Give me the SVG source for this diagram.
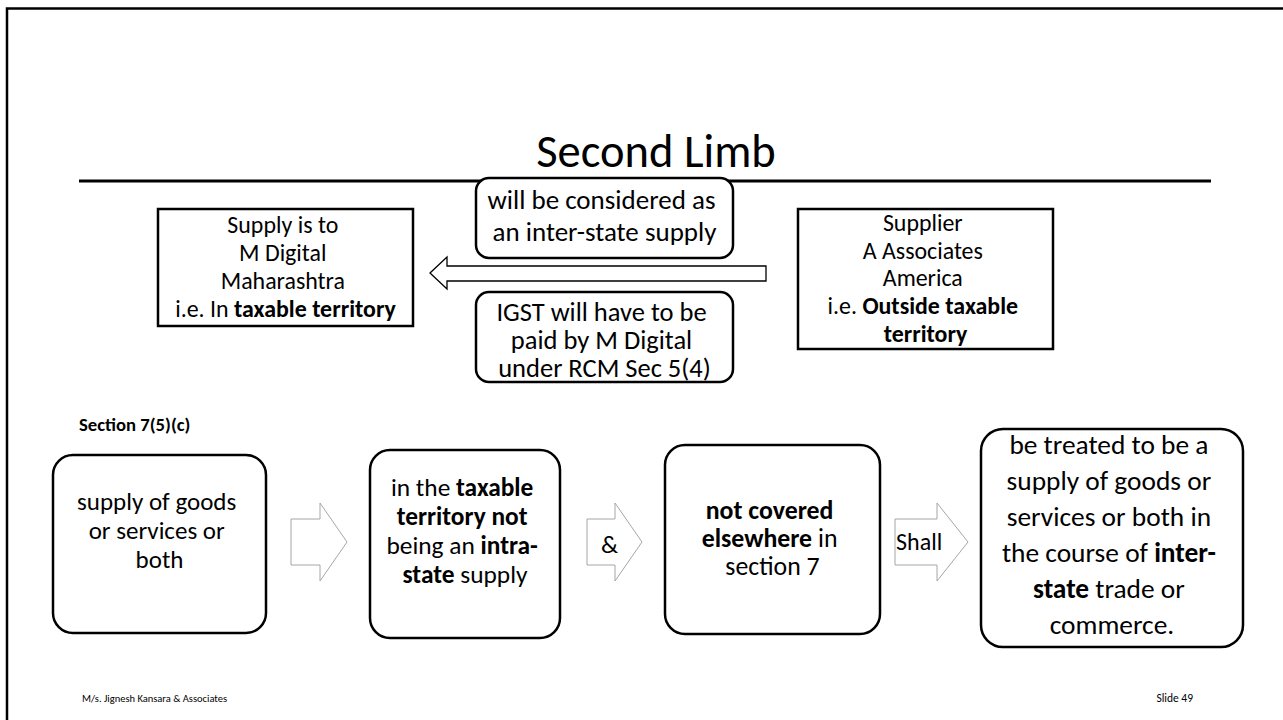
<svg xmlns="http://www.w3.org/2000/svg" width="1283" height="720" viewBox="0 0 1283 720">
  <style>
    text { font-family: "Carlito", "Lato", "Liberation Sans", sans-serif; fill: #000; }
    .c { text-anchor: middle; }
    .b { font-weight: bold; }
    .box { fill: #fff; stroke: #000; stroke-width: 2.5; }
    .frame { fill: none; stroke: #000; stroke-width: 2.5; }
    .rule { stroke: #000; stroke-width: 3; }
    .flow { fill: #fff; stroke: #000; stroke-width: 1.3; stroke-linejoin: miter; }
    .step { fill: #fff; stroke: #a6a6a6; stroke-width: 1; stroke-linejoin: miter; }
  </style>

  <rect width="1283" height="720" fill="#fff"/>

  <!-- slide frame, title and rule -->
  <g id="slide">
    <path class="frame" d="M7,720 V8.5 H1283"/>
    <text class="c" x="656" y="167" font-size="46.5">Second Limb</text>
    <line class="rule" x1="79" y1="181" x2="1211" y2="181"/>
  </g>

  <!-- connectors: block arrows -->
  <g id="connectors">
    <polygon class="flow" points="430,273 447,257 447,266 766,266 766,281 447,281 447,289"/>
    <polygon class="step" points="291,519 320,519 320,503 347,542 320,581 320,565 291,565"/>
    <polygon class="step" points="587,519 615,519 615,503 642,542 615,581 615,565 587,565"/>
    <text x="601" y="553" font-size="25">&amp;</text>
    <polygon class="step" points="895,519 937,519 937,503 968,542 937,581 937,565 895,565"/>
    <text x="896" y="550" font-size="24">Shall</text>
  </g>

  <!-- top row -->
  <g id="recipient">
    <rect class="box" x="158" y="209" width="255" height="117"/>
    <text class="c" x="285.5" font-size="23.9">
      <tspan x="285.5" y="233">Supply is to</tspan>
      <tspan x="285.5" y="261">M Digital</tspan>
      <tspan x="285.5" y="289">Maharashtra</tspan>
      <tspan x="285.5" y="317">i.e. In <tspan class="b">taxable territory</tspan></tspan>
    </text>
  </g>

  <g id="inter-state">
    <rect class="box" x="476" y="178" width="257" height="80" rx="13"/>
    <text class="c" x="604.5" font-size="27">
      <tspan x="604.5" y="209">will be considered as</tspan>
      <tspan x="604.5" y="241">an inter-state supply</tspan>
    </text>
  </g>

  <g id="igst">
    <rect class="box" x="476" y="292" width="257" height="90" rx="13"/>
    <text class="c" x="604.5" font-size="26.5">
      <tspan x="604.5" y="321">IGST will have to be</tspan>
      <tspan x="604.5" y="349">paid by M Digital</tspan>
      <tspan x="604.5" y="377">under RCM Sec 5(4)</tspan>
    </text>
  </g>

  <g id="supplier">
    <rect class="box" x="798" y="209" width="255" height="140"/>
    <text class="c" x="925.5" font-size="23.9">
      <tspan x="925.5" y="231">Supplier</tspan>
      <tspan x="925.5" y="258.7">A Associates</tspan>
      <tspan x="925.5" y="286.4">America</tspan>
      <tspan x="925.5" y="314">i.e. <tspan class="b">Outside taxable</tspan></tspan>
      <tspan x="925.5" y="342" class="b">territory</tspan>
    </text>
  </g>

  <!-- Section 7(5)(c) flow -->
  <g id="section-label">
    <text class="b" x="79" y="431" font-size="18.7">Section 7(5)(c)</text>
  </g>

  <g id="supply">
    <rect class="box" x="53" y="455" width="213" height="178" rx="20"/>
    <text class="c" x="159.5" font-size="25">
      <tspan x="159.5" y="510">supply of goods</tspan>
      <tspan x="159.5" y="539">or services or</tspan>
      <tspan x="159.5" y="568">both</tspan>
    </text>
  </g>

  <g id="taxable-territory">
    <rect class="box" x="370" y="450" width="190" height="188" rx="20"/>
    <text class="c" x="465" font-size="25.4">
      <tspan x="465" y="496">in the <tspan class="b">taxable</tspan></tspan>
      <tspan x="465" y="525" class="b">territory not</tspan>
      <tspan x="465" y="554">being an <tspan class="b">intra-</tspan></tspan>
      <tspan x="465" y="583"><tspan class="b">state</tspan> supply</tspan>
    </text>
  </g>

  <g id="not-covered">
    <rect class="box" x="665" y="445" width="215" height="189" rx="20"/>
    <text class="c" x="772.5" font-size="25.8">
      <tspan x="772.5" y="519" class="b">not covered</tspan>
      <tspan x="772.5" y="547"><tspan class="b">elsewhere</tspan> in</tspan>
      <tspan x="772.5" y="575">section 7</tspan>
    </text>
  </g>

  <g id="inter-state-trade">
    <rect class="box" x="981" y="429" width="262" height="218" rx="22"/>
    <text class="c" x="1112" font-size="27.4">
      <tspan x="1112" y="454">be treated to be a</tspan>
      <tspan x="1112" y="490">supply of goods or</tspan>
      <tspan x="1112" y="526">services or both in</tspan>
      <tspan x="1112" y="562">the course of <tspan class="b">inter-</tspan></tspan>
      <tspan x="1112" y="598"><tspan class="b">state</tspan> trade or</tspan>
      <tspan x="1112" y="634">commerce.</tspan>
    </text>
  </g>

  <!-- footer -->
  <g id="footer">
    <text x="82" y="702" font-size="10.5">M/s. Jignesh Kansara &amp; Associates</text>
    <text x="1193" y="702" font-size="11.5" text-anchor="end">Slide 49</text>
  </g>
</svg>
